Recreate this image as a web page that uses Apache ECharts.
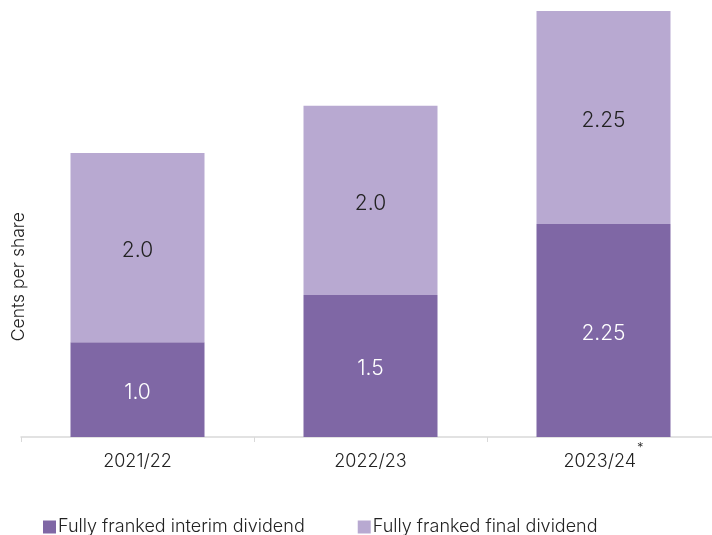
<!DOCTYPE html>
<html><head><meta charset="utf-8">
<script src="https://cdn.jsdelivr.net/npm/echarts@6/dist/echarts.min.js"></script>
<style>html,body{margin:0;padding:0;background:#fff}#c{width:712px;height:535px}</style>
</head><body><div id="c"></div>
<script>
const categories = ['2021/22', '2022/23', '2023/24'];
const footnoteMark = [false, false, true];
const interimValues = [1.0, 1.5, 2.25];
const finalValues = [2.0, 2.0, 2.25];
const interimLabels = ['1.0', '1.5', '2.25'];
const finalLabels = ['2.0', '2.0', '2.25'];
const seriesNames = ['Fully franked interim dividend', 'Fully franked final dividend'];
const yAxisName = 'Cents per share';

const chart = echarts.init(document.getElementById('c'));
const font = 'Inter, Lato, sans-serif';
chart.setOption({
  animation: false,
  grid: { left: 21, top: 11, width: 699, bottom: 98, containLabel: false, outerBoundsMode: 'none' },
  xAxis: {
    type: 'category', data: categories,
    axisLine: { lineStyle: { color: '#d9d9d9', width: 1.5 } },
    axisTick: { show: true, length: 5, lineStyle: { color: '#d9d9d9' } },
    axisLabel: {
      margin: 5, fontFamily: font, fontWeight: 300, fontSize: 18, color: '#222',
      formatter: (v, i) => '{a|' + v + '}' + (footnoteMark[i] ? '{sup|*}' : ''),
      rich: {
        a: { fontFamily: font, fontWeight: 300, fontSize: 18, color: '#222', lineHeight: 40, verticalAlign: 'middle' },
        sup: { fontFamily: font, fontWeight: 300, fontSize: 13, color: '#222', lineHeight: 12, verticalAlign: 'top', padding: [0, 0, 0, 1] }
      }
    }
  },
  yAxis: {
    type: 'value', min: 0, max: 4.5,
    axisLine: { show: false }, axisTick: { show: false }, axisLabel: { show: false }, splitLine: { show: false }
  },
  graphic: [{
    type: 'text', left: 10, top: 212, rotation: Math.PI / 2,
    style: { text: yAxisName, fontFamily: font, fontWeight: 300, fontSize: 17.5, fill: '#222' }
  }],
  legend: {
    top: 513, left: 38, itemGap: 53, itemWidth: 13, itemHeight: 13, icon: 'rect',
    textStyle: { fontFamily: font, fontWeight: 300, fontSize: 18, color: '#222', padding: [2, 0, 0, -3] },
    data: seriesNames
  },
  series: [
    { name: seriesNames[0], type: 'bar', stack: 's', barWidth: 134, data: interimValues,
      itemStyle: { color: '#7F67A5' },
      label: { show: true, position: 'inside', offset: [0, 3], fontFamily: font, fontWeight: 300, fontSize: 21, color: '#fff',
        formatter: p => interimLabels[p.dataIndex] } },
    { name: seriesNames[1], type: 'bar', stack: 's', barWidth: 134, data: finalValues,
      itemStyle: { color: '#B8A9D1' },
      label: { show: true, position: 'inside', offset: [0, 3], fontFamily: font, fontWeight: 300, fontSize: 21, color: '#222',
        formatter: p => finalLabels[p.dataIndex] } }
  ]
});
</script></body></html>
